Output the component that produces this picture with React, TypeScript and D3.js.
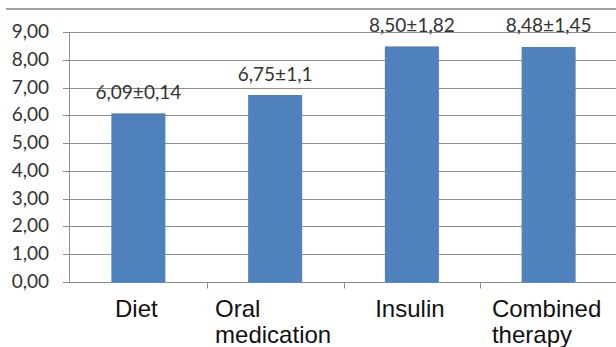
import React, { useEffect, useRef } from "react";
import * as d3 from "d3";

const categories = ["Diet", "Oral medication", "Insulin", "Combined therapy"];
const categoryLines = [["Diet"], ["Oral", "medication"], ["Insulin"], ["Combined", "therapy"]];
const means = [6.09, 6.75, 8.5, 8.48];
const valueLabels = ["6,09±0,14", "6,75±1,1", "8,50±1,82", "8,48±1,45"];
const yTicks = [0, 1, 2, 3, 4, 5, 6, 7, 8, 9];

const W = 616;
const H = 347;

export default function App() {
  const ref = useRef<SVGSVGElement>(null);

  useEffect(() => {
    const svg = d3.select(ref.current);
    svg.selectAll("*").remove();

    const x = d3
      .scaleBand<string>()
      .domain(categories)
      .range([70, 617])
      .paddingInner(0.605)
      .paddingOuter(0.3025);
    const y = d3.scaleLinear().domain([0, 9]).range([282.5, 32.5]);
    const step = x.step();

    // top border line (chart frame)
    svg.append("line")
      .attr("x1", 6).attr("x2", W)
      .attr("y1", 9).attr("y2", 9)
      .attr("stroke", "#a0a0a0").attr("stroke-width", 2);

    // gridlines + y ticks
    const g = svg.append("g");
    g.selectAll("line.grid")
      .data(yTicks)
      .join("line")
      .attr("class", "grid")
      .attr("x1", 63).attr("x2", W)
      .attr("y1", (d) => Math.round(y(d) - 0.5) + 0.5)
      .attr("y2", (d) => Math.round(y(d) - 0.5) + 0.5)
      .attr("stroke", "#8e8e8e").attr("stroke-width", 1);

    g.selectAll("text.ylab")
      .data(yTicks)
      .join("text")
      .attr("class", "ylab")
      .attr("x", 49)
      .attr("y", (d) => y(d) + 5.5)
      .attr("text-anchor", "end")
      .attr("font-family", "Lato, 'Open Sans', sans-serif")
      .attr("font-size", 19)
      .attr("fill", "#333")
      .text((d) => d3.format(".2f")(d).replace(".", ","));

    // y axis line
    svg.append("line")
      .attr("x1", 69.5).attr("x2", 69.5)
      .attr("y1", y(9)).attr("y2", y(0) + 0.5)
      .attr("stroke", "#8e8e8e").attr("stroke-width", 1);

    // x axis ticks at category boundaries
    svg.selectAll("line.xtick")
      .data(categories.slice(1))
      .join("line")
      .attr("class", "xtick")
      .attr("x1", (d) => Math.round(x(d)! - step * 0.3025) + 0.5)
      .attr("x2", (d) => Math.round(x(d)! - step * 0.3025) + 0.5)
      .attr("y1", y(0)).attr("y2", y(0) + 6)
      .attr("stroke", "#8e8e8e").attr("stroke-width", 1);

    // bars
    svg.selectAll("rect.bar")
      .data(means)
      .join("rect")
      .attr("class", "bar")
      .attr("x", (_, i) => x(categories[i])!)
      .attr("y", (d) => y(d))
      .attr("width", x.bandwidth())
      .attr("height", (d) => y(0) - y(d))
      .attr("fill", "#4f81bd");

    // value labels
    svg.selectAll("text.vlab")
      .data(means)
      .join("text")
      .attr("class", "vlab")
      .attr("x", (_, i) => x(categories[i])! + x.bandwidth() / 2)
      .attr("y", (d) => y(d) - 14.5)
      .attr("text-anchor", "middle")
      .attr("font-family", "Lato, 'Open Sans', sans-serif")
      .attr("font-size", 19)
      .attr("fill", "#333")
      .text((_, i) => valueLabels[i]);

    // category labels (multi-line, left-aligned block centred on category)
    categories.forEach((c, i) => {
      const cx = x(c)! + x.bandwidth() / 2;
      const t = svg.append("text")
        .attr("font-family", "'Liberation Sans', Arial, sans-serif")
        .attr("font-size", 24)
        .attr("fill", "#111");
      categoryLines[i].forEach((line, j) => {
        t.append("tspan").attr("y", 317 + j * 26).text(line);
      });
      const widths: number[] = [];
      t.selectAll<SVGTSpanElement, unknown>("tspan").each(function () {
        widths.push(this.getComputedTextLength());
      });
      const bw = d3.max(widths) || 0;
      t.selectAll("tspan").attr("x", cx - bw / 2 - 2);
    });
  }, []);

  return (
    <svg
      ref={ref}
      width={W}
      height={H}
      style={{ position: "absolute", left: 0, top: 0, background: "#fff" }}
    />
  );
}
